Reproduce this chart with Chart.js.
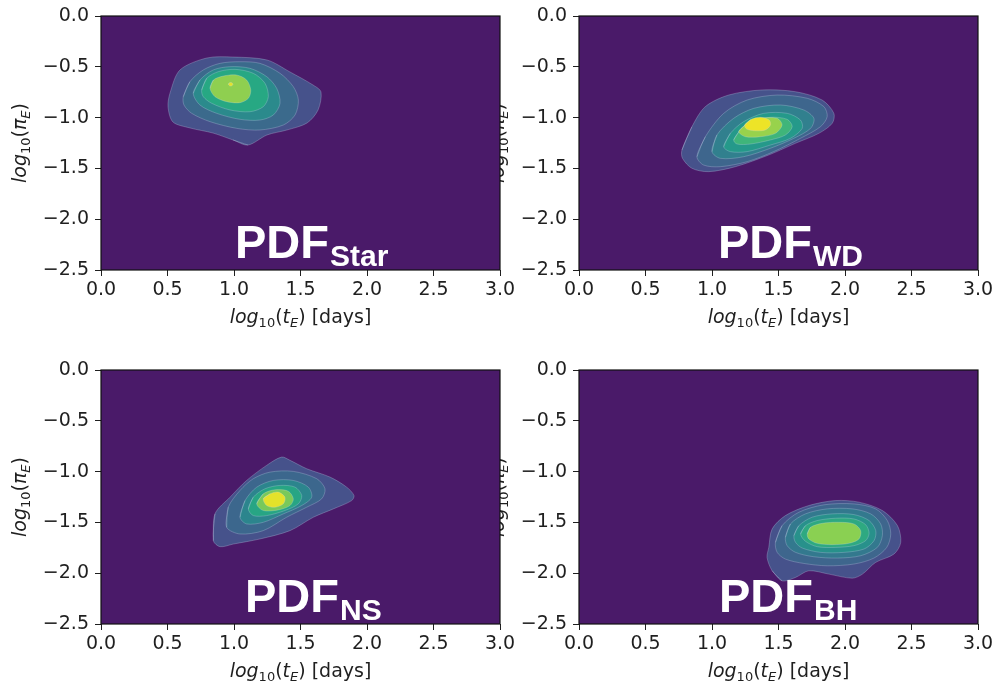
<!DOCTYPE html>
<html>
<head>
<meta charset="utf-8">
<script src="https://cdn.jsdelivr.net/npm/chart.js@4.4.1/dist/chart.umd.min.js"></script>
<style>
  body { margin: 0; background: #fff; }
  #wrap { position: relative; width: 995px; height: 683px; overflow: hidden; }
  #wrap canvas { position: absolute; }
</style>
</head>
<body>
<div id="wrap">
  <canvas id="pdfWD" width="520" height="340" style="left:478px;top:0;z-index:1"></canvas>
  <canvas id="pdfBH" width="520" height="340" style="left:478px;top:354px;z-index:1"></canvas>
  <canvas id="pdfStar" width="520" height="340" style="left:0;top:0;z-index:2"></canvas>
  <canvas id="pdfNS" width="520" height="340" style="left:0;top:354px;z-index:2"></canvas>
</div>
<script>
const xTickValues = [0, 0.5, 1, 1.5, 2, 2.5, 3];
const xTickLabels = ["0.0", "0.5", "1.0", "1.5", "2.0", "2.5", "3.0"];
const yTickValues = [0, -0.5, -1, -1.5, -2, -2.5];
const yTickLabels = ["0.0", "\u22120.5", "\u22121.0", "\u22121.5", "\u22122.0", "\u22122.5"];

// filled KDE contours, outermost level first, points are [log10 tE, log10 piE]
const starContours = [
  [[1.105,-1.27],[0.992,-1.22],[0.842,-1.152],[0.669,-1.102],[0.541,-1.043],[0.504,-0.896],[0.519,-0.758],[0.594,-0.531],[0.797,-0.413],[0.992,-0.404],[1.248,-0.433],[1.421,-0.551],[1.594,-0.679],[1.654,-0.748],[1.632,-0.925],[1.549,-1.053],[1.398,-1.122],[1.248,-1.171]],
  [[0.619,-0.794],[0.668,-0.647],[0.769,-0.531],[0.895,-0.466],[1.045,-0.45],[1.195,-0.466],[1.346,-0.564],[1.446,-0.696],[1.484,-0.827],[1.459,-0.974],[1.371,-1.073],[1.195,-1.122],[1.021,-1.106],[0.82,-1.04],[0.682,-0.958],[0.624,-0.876]],
  [[0.694,-0.761],[0.744,-0.63],[0.844,-0.531],[0.97,-0.499],[1.12,-0.515],[1.246,-0.597],[1.321,-0.712],[1.346,-0.859],[1.296,-0.974],[1.195,-1.024],[1.045,-1.017],[0.87,-0.958],[0.744,-0.876]],
  [[0.757,-0.728],[0.795,-0.613],[0.882,-0.548],[1.008,-0.525],[1.145,-0.564],[1.233,-0.662],[1.258,-0.794],[1.22,-0.893],[1.12,-0.942],[0.97,-0.925],[0.832,-0.859],[0.769,-0.794]],
  [[0.82,-0.712],[0.845,-0.63],[0.92,-0.591],[1.02,-0.581],[1.095,-0.63],[1.126,-0.728],[1.108,-0.81],[1.045,-0.853],[0.945,-0.843],[0.857,-0.794]],
  [[0.958,-0.672],[0.966,-0.657],[0.984,-0.657],[0.992,-0.672],[0.984,-0.687],[0.966,-0.687]]
];
const wdContours = [
  [[0.774,-1.319],[0.849,-1.09],[0.949,-0.893],[1.125,-0.778],[1.376,-0.728],[1.627,-0.745],[1.828,-0.827],[1.916,-0.957],[1.904,-1.056],[1.803,-1.155],[1.627,-1.253],[1.426,-1.368],[1.176,-1.483],[0.975,-1.532],[0.849,-1.499],[0.778,-1.4]],
  [[0.887,-1.385],[0.95,-1.188],[1.088,-0.958],[1.264,-0.827],[1.49,-0.778],[1.716,-0.81],[1.841,-0.892],[1.866,-0.991],[1.816,-1.089],[1.665,-1.204],[1.464,-1.335],[1.264,-1.434],[1.063,-1.483],[0.937,-1.467]],
  [[1.0,-1.335],[1.037,-1.171],[1.163,-1.007],[1.314,-0.909],[1.515,-0.876],[1.69,-0.925],[1.766,-1.007],[1.741,-1.106],[1.615,-1.204],[1.439,-1.302],[1.238,-1.385],[1.063,-1.401]],
  [[1.088,-1.286],[1.138,-1.155],[1.238,-1.04],[1.389,-0.958],[1.565,-0.958],[1.665,-1.024],[1.678,-1.106],[1.59,-1.204],[1.439,-1.27],[1.264,-1.335],[1.138,-1.335]],
  [[1.163,-1.22],[1.213,-1.122],[1.301,-1.04],[1.439,-0.997],[1.565,-1.017],[1.603,-1.089],[1.552,-1.171],[1.439,-1.22],[1.289,-1.26],[1.188,-1.26]],
  [[1.201,-1.138],[1.264,-1.056],[1.364,-1.007],[1.49,-1.007],[1.527,-1.073],[1.477,-1.155],[1.364,-1.188],[1.251,-1.188]],
  [[1.245,-1.073],[1.295,-1.017],[1.365,-0.997],[1.43,-1.024],[1.44,-1.073],[1.4,-1.122],[1.32,-1.129],[1.26,-1.112]]
];
const nsContours = [
  [[0.845,-1.68],[0.857,-1.416],[0.97,-1.252],[1.095,-1.087],[1.245,-0.939],[1.358,-0.857],[1.421,-0.889],[1.547,-0.972],[1.722,-1.054],[1.847,-1.153],[1.902,-1.235],[1.885,-1.285],[1.747,-1.367],[1.597,-1.449],[1.421,-1.581],[1.195,-1.663],[0.995,-1.713],[0.895,-1.739]],
  [[0.945,-1.548],[0.957,-1.35],[1.045,-1.186],[1.145,-1.07],[1.271,-1.005],[1.446,-0.998],[1.622,-1.07],[1.684,-1.169],[1.659,-1.268],[1.547,-1.35],[1.396,-1.449],[1.22,-1.581],[1.045,-1.614]],
  [[1.045,-1.449],[1.083,-1.285],[1.171,-1.153],[1.296,-1.087],[1.446,-1.087],[1.559,-1.153],[1.584,-1.252],[1.509,-1.334],[1.371,-1.416],[1.22,-1.499],[1.095,-1.515]],
  [[1.108,-1.367],[1.145,-1.252],[1.233,-1.169],[1.346,-1.136],[1.459,-1.153],[1.509,-1.235],[1.484,-1.317],[1.383,-1.383],[1.246,-1.433],[1.145,-1.433]],
  [[1.171,-1.317],[1.22,-1.219],[1.308,-1.179],[1.408,-1.193],[1.446,-1.268],[1.421,-1.334],[1.333,-1.377],[1.22,-1.383]],
  [[1.22,-1.268],[1.271,-1.219],[1.333,-1.202],[1.383,-1.252],[1.371,-1.317],[1.308,-1.351],[1.246,-1.334]]
];
const bhContours = [
  [[1.527,-2.075],[1.452,-1.976],[1.414,-1.845],[1.427,-1.746],[1.452,-1.565],[1.552,-1.433],[1.728,-1.334],[1.929,-1.285],[2.105,-1.301],[2.281,-1.383],[2.394,-1.531],[2.419,-1.696],[2.369,-1.811],[2.23,-1.894],[2.131,-2.009],[2.055,-2.049],[1.879,-2.009],[1.728,-1.976],[1.627,-2.042]],
  [[1.477,-1.696],[1.527,-1.532],[1.653,-1.4],[1.841,-1.327],[2.067,-1.318],[2.231,-1.367],[2.318,-1.482],[2.344,-1.614],[2.314,-1.746],[2.218,-1.851],[2.067,-1.91],[1.866,-1.927],[1.69,-1.904],[1.552,-1.861],[1.49,-1.795]],
  [[1.552,-1.647],[1.59,-1.515],[1.703,-1.416],[1.866,-1.367],[2.055,-1.367],[2.193,-1.416],[2.268,-1.515],[2.281,-1.63],[2.243,-1.746],[2.118,-1.828],[1.942,-1.851],[1.766,-1.838],[1.628,-1.795],[1.565,-1.729]],
  [[1.616,-1.63],[1.653,-1.532],[1.753,-1.449],[1.904,-1.416],[2.067,-1.423],[2.181,-1.482],[2.231,-1.581],[2.218,-1.68],[2.143,-1.762],[1.992,-1.795],[1.816,-1.795],[1.678,-1.752],[1.628,-1.696]],
  [[1.666,-1.614],[1.703,-1.532],[1.791,-1.482],[1.929,-1.459],[2.067,-1.466],[2.155,-1.522],[2.181,-1.607],[2.155,-1.68],[2.067,-1.729],[1.929,-1.746],[1.791,-1.739],[1.703,-1.686]],
  [[1.716,-1.614],[1.741,-1.548],[1.829,-1.509],[1.954,-1.499],[2.067,-1.515],[2.118,-1.581],[2.105,-1.663],[2.029,-1.706],[1.904,-1.719],[1.791,-1.706],[1.728,-1.663]]
];

// viridis-like fill colours per contour level
const starColors = ["#46528b", "#3b6a8c", "#2b8a8c", "#27a883", "#8fcf50", "#e3e12b"];
const wdColors = ["#46528b", "#3e668d", "#31808e", "#25998a", "#3fb57a", "#98d24c", "#ede427"];
const nsColors = ["#46528b", "#3c678d", "#2c858d", "#27a584", "#79c95a", "#e4e22a"];
const bhColors = ["#46528b", "#3e668d", "#33798e", "#28918b", "#2ea981", "#8ad052"];

const FONT = "'DejaVu Sans', sans-serif";
const INK = "#1f1f1f";
const BG = "#4a1a69";

const xTitleParts = [
  { text: "log", font: "italic 19px " + FONT },
  { text: "10", font: "13px " + FONT, dy: 4 },
  { text: "(", font: "19px " + FONT },
  { text: "t", font: "italic 19px " + FONT },
  { text: "E", font: "italic 13px " + FONT, dy: 4 },
  { text: ")", font: "19px " + FONT },
  { text: " [days]", font: "19px " + FONT }
];
const yTitleParts = [
  { text: "log", font: "italic 19px " + FONT },
  { text: "10", font: "13px " + FONT, dy: 4 },
  { text: "(", font: "19px " + FONT },
  { text: "\u03c0", font: "italic 19px " + FONT },
  { text: "E", font: "italic 13px " + FONT, dy: 4 },
  { text: ")", font: "19px " + FONT }
];

function richWidth(ctx, parts) {
  let w = 0;
  parts.forEach(p => { ctx.font = p.font; w += ctx.measureText(p.text).width; });
  return w;
}

function drawRich(ctx, parts, x, y) {
  let cx = x;
  parts.forEach(p => {
    ctx.font = p.font;
    ctx.fillText(p.text, cx, y + (p.dy || 0));
    cx += ctx.measureText(p.text).width;
  });
}

function panelDecor(sub, labelDx) {
  return {
    id: "panelDecor",
    beforeDatasetsDraw(chart) {
      const { ctx, chartArea: a } = chart;
      ctx.save();
      ctx.fillStyle = BG;
      ctx.fillRect(a.left, a.top, a.right - a.left, a.bottom - a.top);
      ctx.restore();
    },
    afterDraw(chart) {
      const { ctx, chartArea: a } = chart;
      ctx.save();
      ctx.strokeStyle = "#111";
      ctx.lineWidth = 1.2;
      ctx.strokeRect(a.left, a.top, a.right - a.left, a.bottom - a.top);

      ctx.fillStyle = INK;
      ctx.textBaseline = "alphabetic";
      ctx.textAlign = "left";
      const xw = richWidth(ctx, xTitleParts);
      drawRich(ctx, xTitleParts, (a.left + a.right) / 2 - xw / 2, a.bottom + 53);

      const yw = richWidth(ctx, yTitleParts);
      ctx.save();
      ctx.translate(a.left - 75, (a.top + a.bottom) / 2);
      ctx.rotate(-Math.PI / 2);
      drawRich(ctx, yTitleParts, -yw / 2, 0);
      ctx.restore();

      // big panel label with subscript
      ctx.fillStyle = "#fff";
      ctx.font = "bold 47px 'Liberation Sans', Arial, sans-serif";
      const px = a.left + labelDx;
      const py = a.top + 242;
      ctx.fillText("PDF", px, py);
      const pw = ctx.measureText("PDF").width;
      ctx.font = "bold 30px 'Liberation Sans', Arial, sans-serif";
      ctx.fillText(sub, px + pw + 1, py + 8);
      ctx.restore();
    }
  };
}

function buildPanel(id, contours, colors, sub, labelDx) {
  // repeat the first two vertices so the smoothed outline closes without a kink
  const datasets = contours.map((poly, i) => ({
    data: poly.concat([poly[0], poly[1]]).map(([x, y]) => ({ x, y })),
    showLine: true,
    fill: "shape",
    tension: 0.3,
    backgroundColor: colors[i],
    borderColor: "rgba(205,215,235,0.35)",
    borderWidth: 0.8,
    pointRadius: 0,
    order: contours.length - i
  }));

  return new Chart(document.getElementById(id), {
    type: "scatter",
    data: { datasets },
    options: {
      responsive: false,
      animation: false,
      events: [],
      layout: { padding: { left: 0, top: 16, right: 20, bottom: 0 } },
      plugins: { legend: { display: false }, tooltip: { enabled: false } },
      scales: {
        x: {
          type: "linear",
          min: 0,
          max: 3,
          afterBuildTicks: s => { s.ticks = xTickValues.map(v => ({ value: v })); },
          afterFit: s => { s.height = 70; s.paddingLeft = 0; s.paddingRight = 0; },
          ticks: {
            callback: v => xTickLabels[xTickValues.indexOf(v)],
            font: { family: FONT, size: 19 },
            color: INK,
            padding: 3,
            maxRotation: 0,
            autoSkip: false
          },
          grid: { drawOnChartArea: false, drawTicks: true, tickLength: 6, color: INK },
          border: { display: false }
        },
        y: {
          type: "linear",
          min: -2.5,
          max: 0,
          afterBuildTicks: s => { s.ticks = yTickValues.slice().reverse().map(v => ({ value: v })); },
          afterFit: s => { s.width = 101; s.paddingTop = 0; s.paddingBottom = 0; },
          ticks: {
            callback: v => yTickLabels[yTickValues.indexOf(v)],
            font: { family: FONT, size: 19 },
            color: INK,
            padding: 6,
            autoSkip: false
          },
          grid: { drawOnChartArea: false, drawTicks: true, tickLength: 6, color: INK },
          border: { display: false }
        }
      }
    },
    plugins: [panelDecor(sub, labelDx)]
  });
}

buildPanel("pdfStar", starContours, starColors, "Star", 134);
buildPanel("pdfWD", wdContours, wdColors, "WD", 139);
buildPanel("pdfNS", nsContours, nsColors, "NS", 144);
buildPanel("pdfBH", bhContours, bhColors, "BH", 140);
</script>
</body>
</html>
